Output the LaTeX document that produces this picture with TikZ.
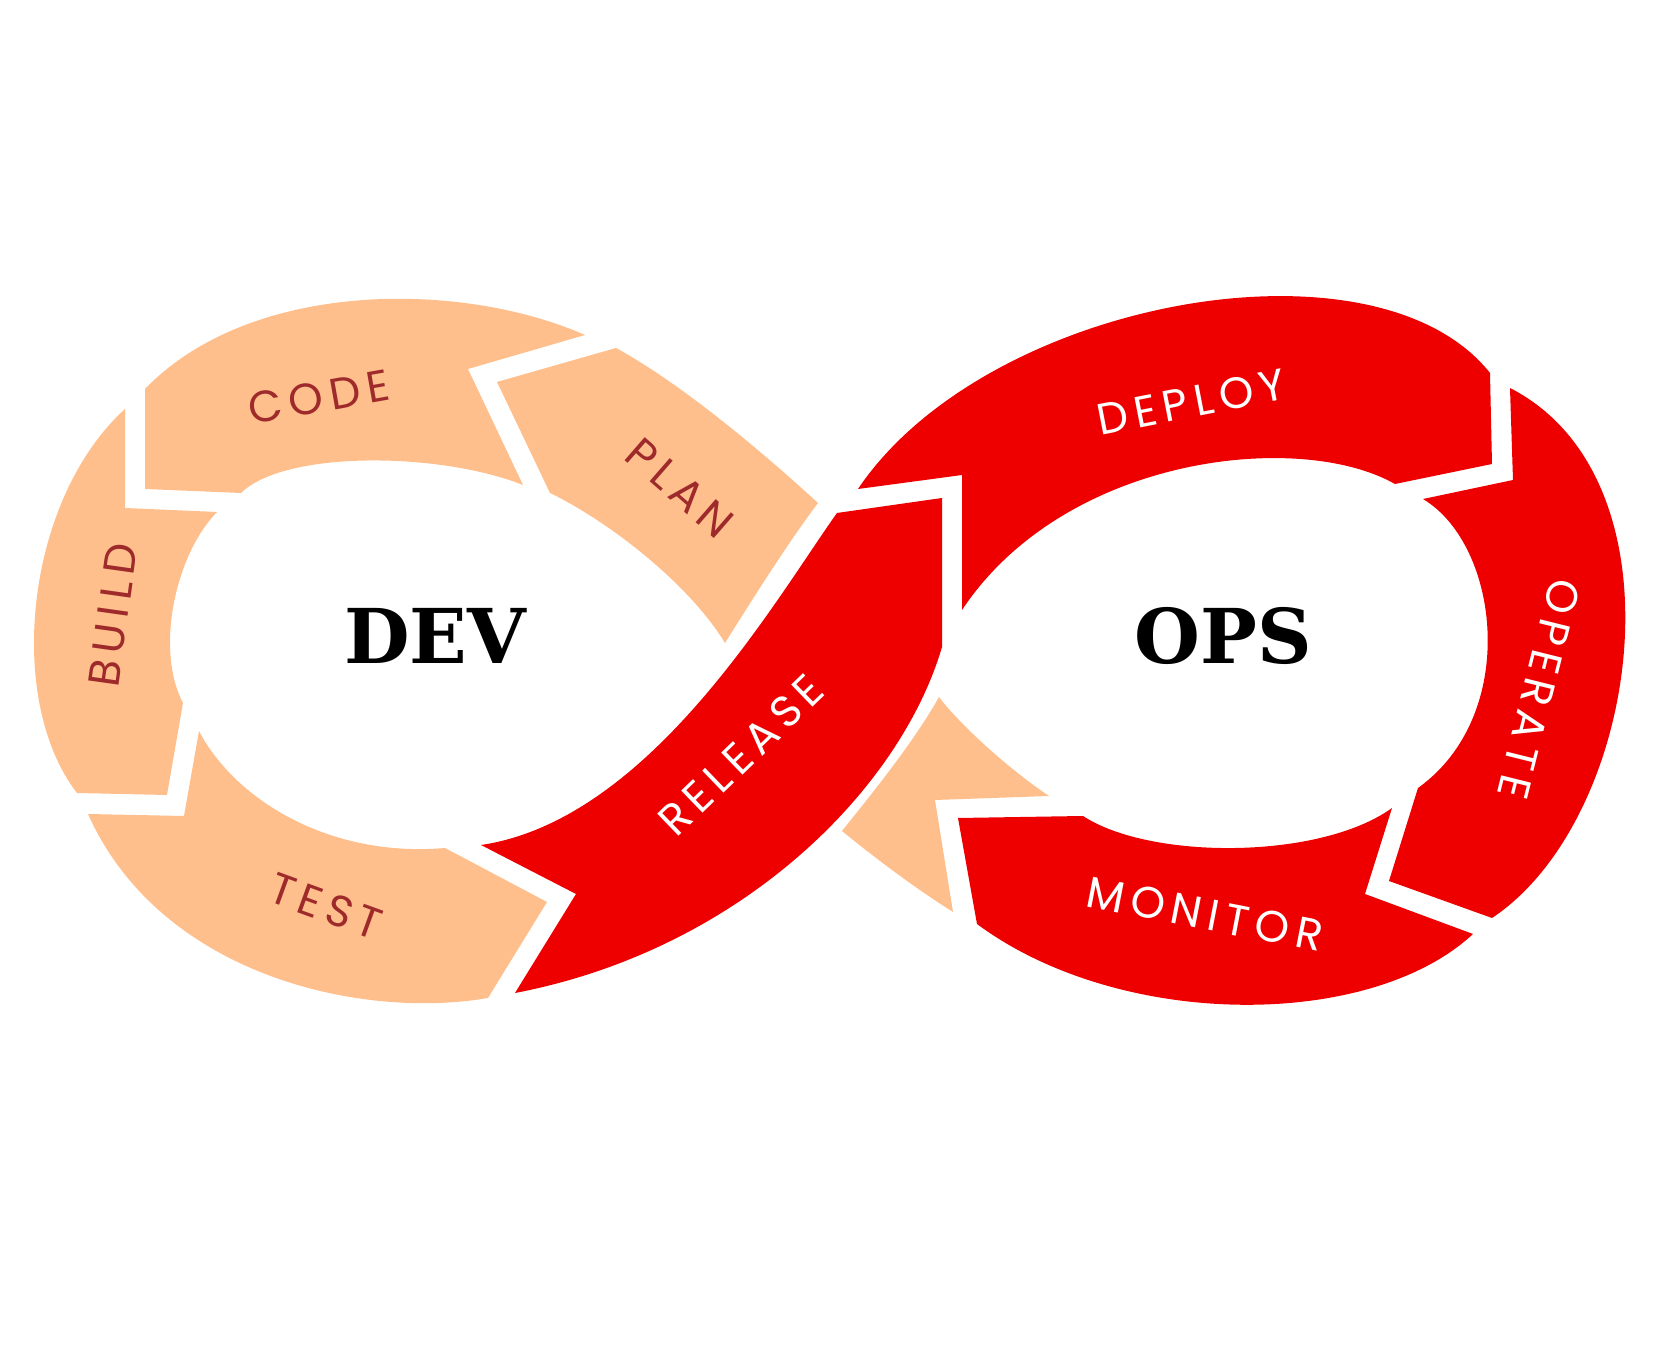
\documentclass[tikz,border=0pt]{standalone}
\usepackage{fontspec}
\newfontfamily\stagefont[LetterSpace=15]{Poppins}
\newfontfamily\hubfont{DejaVu Serif}
\definecolor{peach}{HTML}{FFBF8C}
\definecolor{loopred}{HTML}{EE0000}
\definecolor{rust}{HTML}{9E2A2B}
\tikzset{
  pch/.style = {fill=peach},
  rib/.style = {fill=loopred},
  lbl/.style = {font=\stagefont\fontsize{12.5}{15}\selectfont, text=rust, inner sep=0pt},
  wlb/.style = {lbl, text=white},
  hub/.style = {font=\hubfont\bfseries\fontsize{21.5}{26}\selectfont, text=black},
}
\begin{document}
\begin{tikzpicture}[x=0.01cm, y=-0.01cm]
  \useasboundingbox (0,0) rectangle (1662,1361);

  % dev loop
  \fill[pch] (497,382) -- (616,348) .. controls (680,383) and (758,448) .. (818,503)
    .. controls (790,540) and (755,595) .. (725,643)
    .. controls (690,585) and (610,522) .. (550,493) -- cycle;
  \fill[pch] (468,369) -- (585,335) .. controls (460,280) and (250,280) .. (145,389)
    -- (145,489) -- (241,493) .. controls (285,450) and (440,452) .. (523,485) -- cycle;
  \fill[pch] (125,409) -- (125,508) -- (217,512) .. controls (175,555) and (155,650) .. (183,703)
    -- (167,795) -- (77,793) .. controls (5,700) and (25,500) .. (125,409) -- cycle;
  \fill[pch] (88,814) -- (184,816) -- (199,731) .. controls (235,800) and (330,858) .. (445,848)
    -- (547,902) -- (488,998) .. controls (360,1020) and (160,975) .. (88,814) -- cycle;

  % release crosses over
  \fill[rib] (515,993) -- (576,894) -- (481,845) .. controls (650,820) and (775,600) .. (837,513)
    -- (942,498) -- (942,647) .. controls (900,790) and (740,950) .. (515,993) -- cycle;

  % ops loop
  \fill[rib] (858,489) .. controls (985,300) and (1375,228) .. (1490,373)
    -- (1492,464) -- (1395,484) .. controls (1300,430) and (1065,455) .. (962,610)
    -- (962,475) -- cycle;
  \fill[rib] (1510,388) -- (1513,480) -- (1423,499) .. controls (1500,545) and (1520,715) .. (1418,788)
    -- (1389,881) -- (1492,918) .. controls (1640,820) and (1690,480) .. (1510,388) -- cycle;
  \fill[rib] (1392,808) -- (1365,894) -- (1473,934) .. controls (1370,1030) and (1120,1030) .. (977,924)
    -- (958,818) -- (1083,816) .. controls (1150,860) and (1320,860) .. (1392,808) -- cycle;
  \fill[pch] (939,697) .. controls (960,725) and (1010,770) .. (1049,796)
    -- (935,800) -- (953,912) .. controls (915,888) and (875,858) .. (842,831)
    .. controls (875,790) and (915,740) .. (939,697) -- cycle;

  % stage labels
  \node[lbl, rotate=10]   (code)    at (319,397)  {CODE};
  \node[lbl, rotate=-41]  (plan)    at (680,488)  {PLAN};
  \node[lbl, rotate=82]   (build)   at (113,615)  {BUILD};
  \node[lbl, rotate=-20]  (test)    at (326,906)  {TEST};
  \node[wlb, rotate=44]   (release) at (741,755)  {RELEASE};
  \node[wlb, rotate=11]   (deploy)  at (1191,402) {DEPLOY};
  \node[wlb, rotate=-104] (operate) at (1539,689) {OPERATE};
  \node[wlb, rotate=-11]  (monitor) at (1205,914) {MONITOR};

  \node[hub] (dev) at (435,636)  {DEV};
  \node[hub] (ops) at (1223,636) {OPS};
\end{tikzpicture}
\end{document}
